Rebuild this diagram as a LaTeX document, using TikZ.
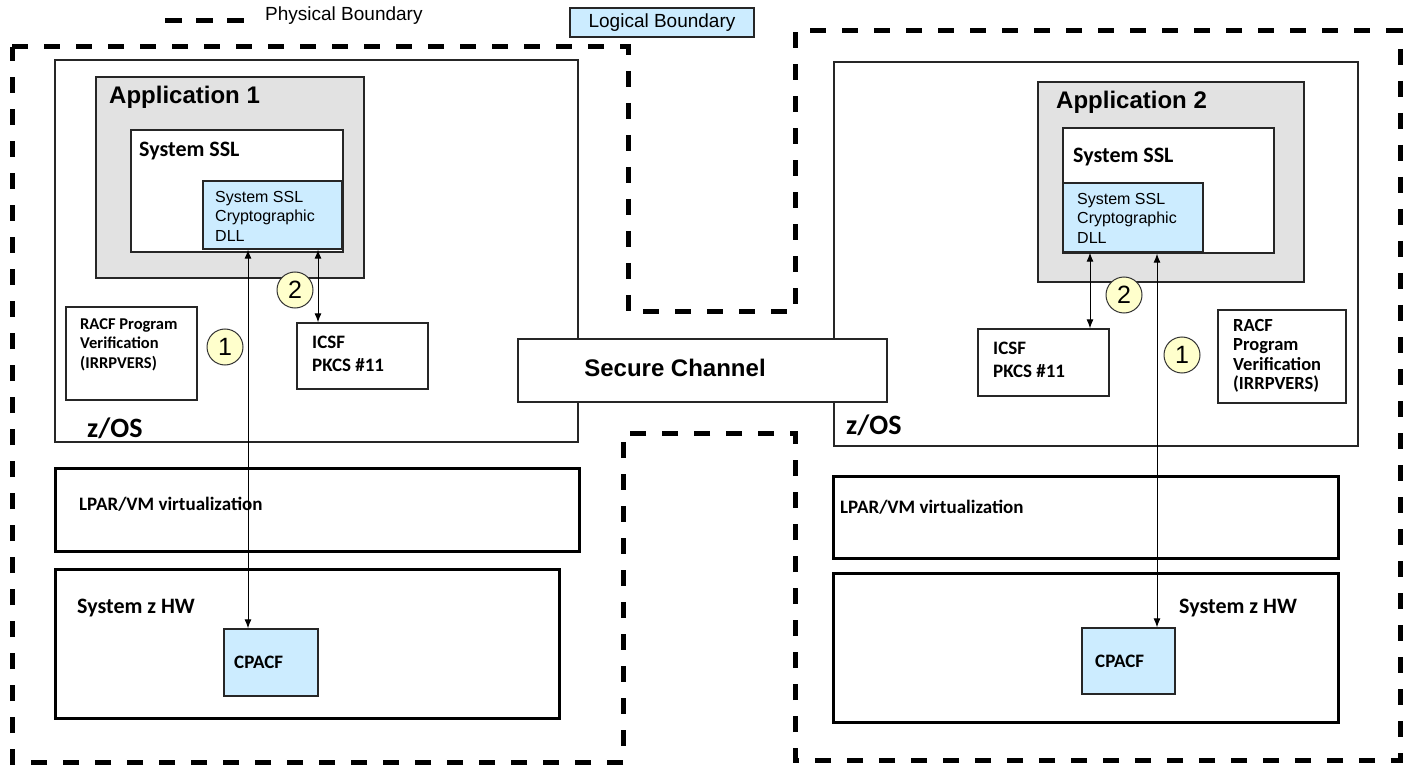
\documentclass[tikz,border=0pt]{standalone}
\usepackage{fontspec}
\setmainfont{Liberation Sans}
\newfontfamily\calibri{Carlito}
\usetikzlibrary{arrows.meta, calc}
\definecolor{logicBlue}{RGB}{204,236,255}
\definecolor{appGray}{RGB}{226,226,226}
\definecolor{stepYellow}{RGB}{255,255,204}
\newcommand{\calb}[2]{\calibri\bfseries\fontsize{#1}{#2}\selectfont}
\newcommand{\arl}[2]{\fontsize{#1}{#2}\selectfont}
\providecommand{\Pane}[6][]{%
  % name, left, top, right, bottom (pixels)
  \node[pane, #1, minimum width={#5-#3}, minimum height={#6-#4}] (#2) at ({(#3+#5)/2},{(#4+#6)/2}) {};%
}

\begin{document}
\begin{tikzpicture}[x=1pt, y=-1pt,
	pane/.style={draw=black!85, line width=1.3pt, fill=white, inner sep=0pt},
	app/.style={fill=appGray},
	crypt/.style={fill=logicBlue},
	heavy/.style={line width=3pt, draw=black},
	lbl/.style={inner sep=0pt, anchor=base west},
	txt/.style={inner sep=0pt, anchor=north west, align=left},
	link/.style={{Latex[length=9pt,width=7pt]}-{Latex[length=9pt,width=7pt]}, line width=1pt},
	num/.style={circle, draw=black!80, line width=1pt, fill=stepYellow, minimum size=36pt, inner sep=0pt, font=\arl{25}{25}},
	physical/.style={line width=5pt, dash pattern=on 16pt off 16pt}]

	\useasboundingbox (0,0) rectangle (1408,767);

	% physical boundary
	\draw[physical] (12,47) -- (628,47) -- (628,312) -- (795,312) -- (795,31) -- (1400,31) -- (1400,760) -- (795,760) -- (795,433) -- (623,433) -- (623,762) -- (12,762) -- cycle;

	% legend
	\draw[physical, dash pattern=on 17pt off 14pt] (165,21) -- (245,21);
	\node[lbl, font=\arl{19}{22}] (physlbl) at (265,21) {Physical Boundary};
	\Pane[crypt]{logic}{570}{8}{754}{37}
	\node[inner sep=0pt, font=\arl{19}{22}] (logiclbl) at (logic.center) {Logical Boundary};

	% left system
	\Pane{zos1}{55}{60}{578}{442}
	\Pane[app]{app1}{96}{77}{364}{278}
	\Pane{ssl1}{131}{130}{343}{252}
	\Pane[crypt]{dll1}{203}{181}{342}{249}
	\Pane{racf1}{66}{307}{197}{400}
	\Pane{icsf1}{297}{323}{428}{389}
	\Pane[heavy]{lpar1}{55}{468}{579}{551}
	\Pane[heavy]{hw1}{55}{569}{559}{718}
	\Pane[crypt]{cpacf1}{224}{629}{318}{696}

	\node[lbl, font=\bfseries\arl{24}{28}] (app1lbl) at (109,104) {Application 1};
	\node[lbl, font=\calb{22}{24}] (ssl1lbl) at (139,157) {System SSL};
	\node[txt, font=\arl{16}{19.5}] (dll1lbl) at (215,191) {System SSL\\Cryptographic\\DLL};
	\node[txt, font=\calb{16.5}{19.5}] (racf1lbl) at (80,318) {RACF Program\\Verification\\(IRRPVERS)};
	\node[txt, font=\calb{19}{23}] (icsf1lbl) at (312,336) {ICSF\\PKCS \#11};
	\node[lbl, font=\calb{28}{30}] (zos1lbl) at (87,437) {z/OS};
	\node[lbl, font=\calb{19}{22}] (lpar1lbl) at (79,510) {LPAR/VM virtualization};
	\node[lbl, font=\calb{22}{24}] (hw1lbl) at (77,613) {System z HW};
	\node[lbl, font=\calb{19}{22}] (cpacf1lbl) at (234,668) {CPACF};

	\draw[link] ([xshift=-24.5pt]dll1.south) -- ([xshift=-24.5pt]dll1.south |- cpacf1.north);
	\draw[link] ([xshift=-44.5pt]icsf1.north) -- ([xshift=-44.5pt]icsf1.north |- dll1.south);
	\node[num] (step2a) at (295,290) {2};
	\node[num] (step1a) at (225,347) {1};

	% right system
	\Pane{zos2}{834}{62}{1358}{446}
	\Pane[app]{app2}{1038}{82}{1304}{282}
	\Pane{ssl2}{1063}{128}{1274}{253}
	\Pane[crypt]{dll2}{1063}{183}{1203}{252}
	\Pane{icsf2}{978}{329}{1109}{396}
	\Pane{racf2}{1218}{310}{1346}{403}
	\Pane[heavy]{lpar2}{833}{476}{1338}{558}
	\Pane[heavy]{hw2}{833}{573}{1338}{722}
	\Pane[crypt]{cpacf2}{1082}{628}{1175}{694}

	\node[lbl, font=\bfseries\arl{24}{28}] (app2lbl) at (1056,109) {Application 2};
	\node[lbl, font=\calb{22}{24}] (ssl2lbl) at (1073,163) {System SSL};
	\node[txt, font=\arl{16}{19.5}] (dll2lbl) at (1077,193) {System SSL\\Cryptographic\\DLL};
	\node[txt, font=\calb{19}{23}] (icsf2lbl) at (993,342) {ICSF\\PKCS \#11};
	\node[txt, font=\calb{18.5}{19.5}] (racf2lbl) at (1233,319) {RACF\\Program\\Verification\\(IRRPVERS)};
	\node[lbl, font=\calb{28}{30}] (zos2lbl) at (846,434) {z/OS};
	\node[lbl, font=\calb{19}{22}] (lpar2lbl) at (840,513) {LPAR/VM virtualization};
	\node[lbl, font=\calb{22}{24}] (hw2lbl) at (1179,613) {System z HW};
	\node[lbl, font=\calb{19}{22}] (cpacf2lbl) at (1095,667) {CPACF};

	\draw[link] ([xshift=46.5pt]icsf2.north) -- ([xshift=46.5pt]icsf2.north |- dll2.south);
	\draw[link] ([xshift=28.5pt]cpacf2.north) -- ([xshift=28.5pt]cpacf2.north |- ssl2.south);
	\node[num] (step2b) at (1124,295) {2};
	\node[num] (step1b) at (1182,355) {1};

	% channel between the systems
	\Pane{chan}{518}{339}{887}{402}
	\node[lbl, anchor=base, font=\bfseries\arl{24}{28}] (chanlbl) at (675,376) {Secure Channel};

\end{tikzpicture}
\end{document}
